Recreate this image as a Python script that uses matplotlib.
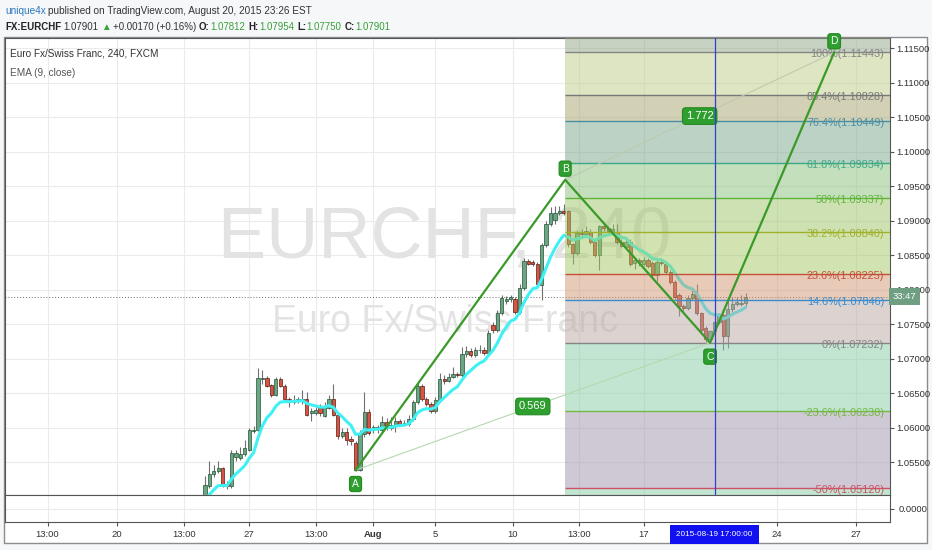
import numpy as np
import pandas as pd
import matplotlib
matplotlib.use('Agg')
import matplotlib.pyplot as plt
from matplotlib.patches import Rectangle

plt.rcParams['font.family'] = ['Liberation Sans', 'DejaVu Sans']

W, H = 932, 550

# 4h candles EURCHF, 20 Jul - 20 Aug 2015
opens = [1.0501, 1.0515, 1.0533, 1.0537, 1.0541, 1.0519, 1.0515, 1.0557, 1.0556, 1.0562,
         1.0568, 1.0595, 1.0597, 1.0670, 1.0672, 1.0662, 1.0648, 1.0671, 1.0661, 1.0642,
         1.0638, 1.0639, 1.0640, 1.0642, 1.0621, 1.0622, 1.0628, 1.0617, 1.0629, 1.0641,
         1.0619, 1.0588, 1.0594, 1.0583, 1.0578, 1.0539, 1.0591, 1.0623, 1.0597, 1.0601,
         1.0597, 1.0608, 1.0600, 1.0602, 1.0609, 1.0606, 1.0606, 1.0613, 1.0637, 1.0661,
         1.0642, 1.0635, 1.0624, 1.0640, 1.0671, 1.0668, 1.0674, 1.0678, 1.0677, 1.0707,
         1.0711, 1.0706, 1.0712, 1.0713, 1.0708, 1.0749, 1.0741, 1.0766, 1.0784, 1.0786,
         1.0786, 1.0768, 1.0803, 1.0842, 1.0840, 1.0838, 1.0807, 1.0865, 1.0896, 1.0901,
         1.0912, 1.0914, 1.0914, 1.0866, 1.0853, 1.0883, 1.0881, 1.0884, 1.0870, 1.0851,
         1.0892, 1.0890, 1.0883, 1.0884, 1.0870, 1.0862, 1.0870, 1.0839, 1.0843, 1.0838,
         1.0843, 1.0839, 1.0822, 1.0841, 1.0838, 1.0826, 1.0812, 1.0792, 1.0777, 1.0773,
         1.0788, 1.0794, 1.0766, 1.0745, 1.0728, 1.0740, 1.0754, 1.0764, 1.0733, 1.0772,
         1.0779, 1.0780, 1.07812]
highs = [1.0530, 1.0551, 1.0546, 1.0551, 1.0543, 1.0522, 1.0568, 1.0568, 1.0572, 1.0582,
         1.0599, 1.0603, 1.0686, 1.0684, 1.0675, 1.0664, 1.0674, 1.0673, 1.0663, 1.0645,
         1.0647, 1.0645, 1.0654, 1.0652, 1.0628, 1.0630, 1.0634, 1.0637, 1.0648, 1.0664,
         1.0621, 1.0599, 1.0599, 1.0588, 1.0580, 1.0596, 1.0652, 1.0627, 1.0604, 1.0604,
         1.0617, 1.0614, 1.0615, 1.0615, 1.0613, 1.0611, 1.0619, 1.0640, 1.0666, 1.0664,
         1.0644, 1.0637, 1.0645, 1.0680, 1.0677, 1.0680, 1.0688, 1.0681, 1.0717, 1.0718,
         1.0716, 1.0717, 1.0720, 1.0717, 1.0742, 1.0753, 1.0770, 1.0792, 1.0791, 1.0792,
         1.0790, 1.0808, 1.0846, 1.0845, 1.0843, 1.0841, 1.0868, 1.0900, 1.0920, 1.0922,
         1.0921, 1.0925, 1.0916, 1.0868, 1.0886, 1.0888, 1.0893, 1.0888, 1.0872, 1.0894,
         1.0896, 1.0893, 1.0896, 1.0895, 1.0873, 1.0872, 1.0874, 1.0848, 1.0846, 1.0847,
         1.0846, 1.0842, 1.0846, 1.0846, 1.0841, 1.0828, 1.0814, 1.0795, 1.0780, 1.0793,
         1.0800, 1.0808, 1.0768, 1.0747, 1.0742, 1.0757, 1.0766, 1.0767, 1.0785, 1.0790,
         1.0790, 1.0793, 1.07954]
lows = [1.0495, 1.0512, 1.0529, 1.0535, 1.0514, 1.0511, 1.0512, 1.0551, 1.0553, 1.0559,
        1.0566, 1.0593, 1.0595, 1.0664, 1.0659, 1.0645, 1.0646, 1.0659, 1.0638, 1.0630,
        1.0634, 1.0636, 1.0635, 1.0617, 1.0610, 1.0618, 1.0617, 1.0615, 1.0627, 1.0617,
        1.0583, 1.0585, 1.0575, 1.0575, 1.0537, 1.0537, 1.0587, 1.0590, 1.0593, 1.0592,
        1.0594, 1.0596, 1.0596, 1.0594, 1.0603, 1.0603, 1.0602, 1.0610, 1.0634, 1.0639,
        1.0632, 1.0622, 1.0621, 1.0638, 1.0664, 1.0666, 1.0672, 1.0673, 1.0674, 1.0703,
        1.0702, 1.0703, 1.0709, 1.0705, 1.0705, 1.0738, 1.0739, 1.0763, 1.0780, 1.0783,
        1.0765, 1.0765, 1.0800, 1.0836, 1.0835, 1.0806, 1.0785, 1.0862, 1.0893, 1.0895,
        1.0908, 1.0909, 1.0862, 1.0838, 1.0850, 1.0878, 1.0879, 1.0867, 1.0848, 1.0829,
        1.0886, 1.0883, 1.0879, 1.0866, 1.0862, 1.0860, 1.0834, 1.0830, 1.0835, 1.0835,
        1.0832, 1.0819, 1.0813, 1.0836, 1.0823, 1.0808, 1.0787, 1.0762, 1.0768, 1.0770,
        1.0785, 1.0763, 1.0739, 1.0725, 1.07232, 1.0737, 1.0751, 1.0712, 1.0716, 1.0768,
        1.0776, 1.0777, 1.07750]
closes = [1.0517, 1.0533, 1.0537, 1.0541, 1.0517, 1.0515, 1.0563, 1.0563, 1.0562, 1.0571,
          1.0597, 1.0597, 1.0672, 1.0672, 1.0661, 1.0648, 1.0671, 1.0661, 1.0641, 1.0637,
          1.0640, 1.0641, 1.0642, 1.0619, 1.0624, 1.0626, 1.0622, 1.0631, 1.0641, 1.0619,
          1.0588, 1.0594, 1.0582, 1.0580, 1.0539, 1.0593, 1.0623, 1.0593, 1.0601, 1.0599,
          1.0608, 1.0600, 1.0604, 1.0609, 1.0606, 1.0607, 1.0613, 1.0637, 1.0661, 1.0642,
          1.0635, 1.0624, 1.0640, 1.0670, 1.0668, 1.0674, 1.0678, 1.0676, 1.0707, 1.0711,
          1.0706, 1.0712, 1.0713, 1.0709, 1.0737, 1.0741, 1.0766, 1.0788, 1.0787, 1.0789,
          1.0768, 1.0803, 1.0842, 1.0838, 1.0837, 1.0809, 1.0865, 1.0896, 1.0911, 1.0911,
          1.0914, 1.0912, 1.0866, 1.0853, 1.0883, 1.0881, 1.0885, 1.0870, 1.0851, 1.0892,
          1.0890, 1.0886, 1.0888, 1.0870, 1.0864, 1.0870, 1.0837, 1.0843, 1.0840, 1.0843,
          1.0835, 1.0822, 1.0841, 1.0839, 1.0826, 1.0812, 1.0790, 1.0776, 1.0773, 1.0788,
          1.0794, 1.0766, 1.0742, 1.0728, 1.0740, 1.0754, 1.0764, 1.0733, 1.0772, 1.0779,
          1.0782, 1.0781, 1.07901]
ema_seed = 1.0490
last_close = 1.07901

# ABCD pattern (bar index, price)
pattern_x = [34, 81.3, 114, 142]
pattern_y = [1.05385, 1.09596, 1.07232, 1.11443]
pattern_names = ['A', 'B', 'C', 'D']
ratio_labels = ['0.569', '1.772']

# trend based fib extension
fib_pcts = ['100%', '85.4%', '76.4%', '61.8%', '50%', '38.2%', '23.6%', '14.6%', '0%', '-23.6%', '-50%']
fib_levels = [1.11443, 1.10828, 1.10449, 1.09834, 1.09337, 1.08840, 1.08225, 1.07846, 1.07232, 1.06238, 1.05126]
fib_line_colors = ['#858585', '#777777', '#4a8ea3', '#3fa886', '#5fb53c', '#9fb02a',
                   '#c44f39', '#3a8cd0', '#858585', '#74b842', '#cc5266']
fib_zone_colors = ['#93a787', '#bfcd89', '#a7a36d', '#79a78b', '#8bc179', '#9fc567',
                   '#a7c967', '#d19973', '#bba7a1', '#87cda7', '#a193ad', '#87cda7']

tick_pos = [-35.5, -19.8, -4.8, 10, 25, 38, 52, 69.5, 84.5, 99, 129, 147]
tick_labels = ['13:00', '20', '13:00', '27', '13:00', 'Aug', '5', '10', '13:00', '17', '24', '27']
price_ticks = np.arange(1.055, 1.1155, 0.005)
cursor_x = 115
cursor_label = '2015-08-19 17:00:00'

xmin, xmax = -45.1, 154.6
ymin, ymax = 1.05024, 1.11652


def rect(x0, y0, x1, y1):
    return [x0 / W, 1 - y1 / H, (x1 - x0) / W, (y1 - y0) / H]


fig = plt.figure(figsize=(W / 100, H / 100), dpi=100, facecolor='#f5f7f9')
fig.add_artist(Rectangle((4 / W, 1 - 543 / H), 923 / W, 506 / H, transform=fig.transFigure,
                         fc='white', ec='#8c8c8c', lw=1, zorder=-1))

ax = fig.add_axes(rect(5, 38, 890, 495))
ax2 = fig.add_axes(rect(5, 495, 890, 522))

# grid
for a in (ax, ax2):
    a.set_xlim(xmin, xmax)
    for t in tick_pos:
        a.axvline(t, color='#ebebeb', lw=0.8, zorder=0)
    for s in a.spines.values():
        s.set_color('#555555')
for p in price_ticks:
    ax.axhline(p, color='#ebebeb', lw=0.8, zorder=0)

ax.set_ylim(ymin, ymax)
ax.set_xticks([])
ax.yaxis.tick_right()
ax.set_yticks(price_ticks)
ax.set_yticklabels([f'{p:.5f}' for p in price_ticks])
ax.tick_params(axis='y', labelsize=6.8, labelcolor='#333333', color='#555555', length=3, pad=1.5)

# watermark
ax.text(0.497, 0.56, 'EURCHF, 240', transform=ax.transAxes, fontsize=52, color='#e3e3e3',
        ha='center', va='center', zorder=1)
ax.text(0.497, 0.378, 'Euro Fx/Swiss Franc', transform=ax.transAxes, fontsize=27, color='#e3e3e3',
        ha='center', va='center', zorder=1)

# candles
x = np.arange(len(closes))
o, h, l, c = map(np.array, (opens, highs, lows, closes))
up = c >= o
ax.vlines(x, l, h, color='#707070', lw=0.8, zorder=3)
ax.bar(x[up], np.maximum((c - o)[up], 0.00004), bottom=o[up], width=0.74,
       color='#6ba583', edgecolor='#225437', lw=0.5, zorder=4)
ax.bar(x[~up], np.maximum((o - c)[~up], 0.00004), bottom=c[~up], width=0.74,
       color='#d75442', edgecolor='#5b1a13', lw=0.5, zorder=4)

ema = pd.Series([ema_seed] + closes).ewm(span=9, adjust=False).mean().values[1:]
ax.plot(x, ema, color='#3ff0f5', lw=2.2, zorder=5, solid_capstyle='round')

ax.axhline(last_close, color='#6a6a6a', ls=(0, (1, 2)), lw=0.7, zorder=2)

# fib zones
fx0 = pattern_x[1]
bounds = [ymax] + fib_levels + [ymin]
for i, col in enumerate(fib_zone_colors):
    ax.fill_between([fx0, xmax], bounds[i + 1], bounds[i], color=col, alpha=0.5, lw=0, zorder=6)
for pct, lev, col in zip(fib_pcts, fib_levels, fib_line_colors):
    ax.hlines(lev, fx0, xmax, color=col, lw=1, zorder=7)
    ax.text(xmax - 1.3, lev - 0.0003, f'{pct}({lev:.5f})', ha='right', va='center',
            color=col, fontsize=7.8, zorder=8)

# ABCD pattern
ax.plot([pattern_x[0], pattern_x[2]], [pattern_y[0], pattern_y[2]], color='#b6d8b0', lw=0.8, zorder=8)
ax.plot([pattern_x[1], pattern_x[3]], [pattern_y[1], pattern_y[3]], color='#bccab2', lw=0.8, zorder=8)
ax.plot(pattern_x, pattern_y, color='#3a9a28', lw=1.6, zorder=9)
box = dict(boxstyle='round,pad=0.3', fc='#2e9e2e', ec='#238a23', lw=0.8)
for k, lab in enumerate(ratio_labels):
    mx = (pattern_x[k] + pattern_x[k + 2]) / 2
    my = (pattern_y[k] + pattern_y[k + 2]) / 2
    ax.text(mx, my, lab, ha='center', va='center', color='white', fontsize=8, bbox=box, zorder=10)
for k, name in enumerate(pattern_names):
    off = -10 if name in ('A', 'C') else 8
    t = ax.annotate(name, (pattern_x[k], pattern_y[k]), xytext=(0, off), textcoords='offset points',
                    ha='center', va='center', color='white', fontsize=7.5,
                    bbox=dict(boxstyle='round,pad=0.25', fc='#2e9e2e', ec='#238a23', lw=0.8), zorder=10)
    t.set_clip_on(True)

ax.axvline(cursor_x, color='#3040c8', lw=0.9, zorder=11)
ax.text(1.003, last_close, '33:47', transform=ax.get_yaxis_transform(), ha='left', va='center',
        color='white', fontsize=6.8, clip_on=False, zorder=12,
        bbox=dict(boxstyle='square,pad=0.4', fc='#6f9f82', ec='none'))

# lower pane and time axis
ax2.set_ylim(-1, 1)
ax2.axhline(0, color='#ebebeb', lw=0.8, zorder=0)
ax2.yaxis.tick_right()
ax2.set_yticks([0])
ax2.set_yticklabels(['0.0000'])
ax2.set_xticks(tick_pos)
ax2.set_xticklabels(tick_labels)
ax2.tick_params(labelsize=6.8, labelcolor='#333333', color='#555555', length=3, pad=3)
ax2.get_xticklabels()[tick_labels.index('Aug')].set_fontweight('bold')
ax2.text(cursor_x, -1.95, cursor_label, transform=ax2.transData, ha='center', va='center',
         color='white', fontsize=5.9, clip_on=False, zorder=12,
         bbox=dict(boxstyle='square,pad=0.75', fc='#1010f0', ec='none'))

# header texts
renderer = fig.canvas.get_renderer()


def chain(x0, y0, parts, size=7.2):
    for s, col, wt, gap in parts:
        t = fig.text(x0 / W, 1 - y0 / H, s, color=col, fontsize=size, fontweight=wt, va='center')
        x0 += t.get_window_extent(renderer).width + gap


chain(5, 11, [('unique4x', '#2a78c0', 'normal', 2.5),
              ('published on TradingView.com, August 20, 2015 23:26 EST', '#333333', 'normal', 0)])
green = '#3aa03a'
chain(5, 27, [('FX:EURCHF', '#222222', 'bold', 2.5), ('1.07901', '#333333', 'normal', 2.5),
              ('▲', green, 'normal', 2), ('+0.00170 (+0.16%)', '#333333', 'normal', 3),
              ('O:', '#222222', 'bold', 0.5), ('1.07812', green, 'normal', 3),
              ('H:', '#222222', 'bold', 0.5), ('1.07954', green, 'normal', 3),
              ('L:', '#222222', 'bold', 0.5), ('1.07750', green, 'normal', 3),
              ('C:', '#222222', 'bold', 0.5), ('1.07901', green, 'normal', 0)], size=7.0)
fig.text(10 / W, 1 - 54 / H, 'Euro Fx/Swiss Franc, 240, FXCM', color='#333333', fontsize=7.2, va='center')
fig.text(10 / W, 1 - 73 / H, 'EMA (9, close)', color='#555555', fontsize=7.2, va='center')

fig.savefig('out.png', dpi=100, facecolor=fig.get_facecolor())
